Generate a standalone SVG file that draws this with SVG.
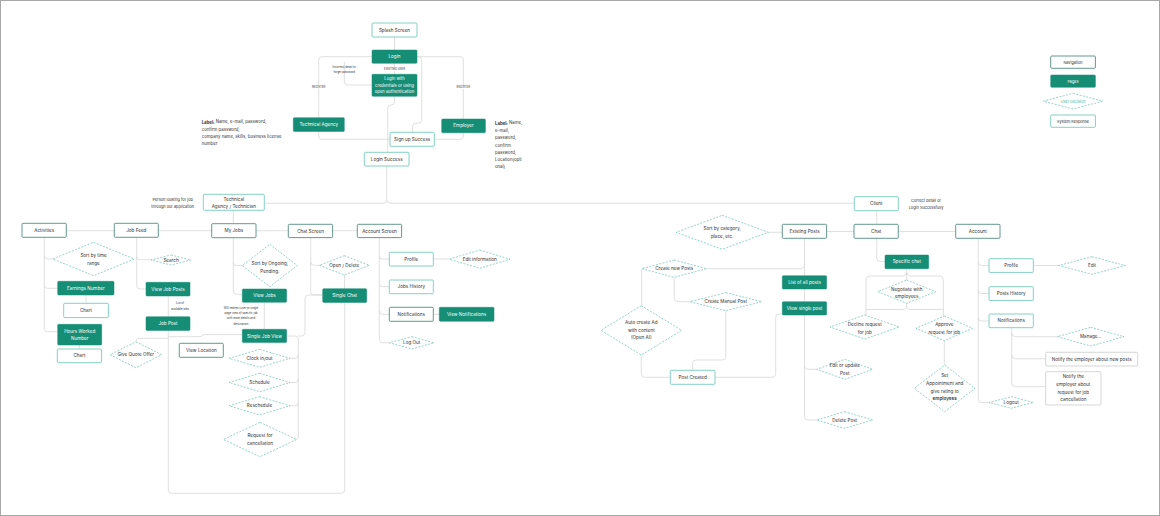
<svg xmlns="http://www.w3.org/2000/svg" width="1160" height="516" viewBox="0 0 1160 516">
<style>
.nav{fill:#fff;stroke:#3d7d6f;stroke-width:0.8}
.page{fill:#168d75;stroke:#168d75;stroke-width:0.5}
.sys{fill:#fff;stroke:#63c7b0;stroke-width:0.8}
.gray{fill:#fff;stroke:#c4c4c4;stroke-width:0.7}
.dec{fill:#fff;stroke:#4fb99f;stroke-width:0.6;stroke-dasharray:2 1.4}
.c path{fill:none;stroke:#d2d2d2;stroke-width:0.7}
text{font-family:Inter,"Liberation Sans",sans-serif;font-size:4.6px;fill:#333;text-anchor:middle;dominant-baseline:central}
.w{fill:#fff}
.s{font-size:2.8px}
.m{font-size:3.9px}
.l{font-size:4.3px;text-anchor:start}
.lg{font-size:3.8px}
.bg{fill:#fff}
</style>
<rect x="0.5" y="0.5" width="1159" height="515" fill="#fff" stroke="#a8a8a8" stroke-width="1"/>
<g class="c" id="connectors">
<path d="M394.5,37 V50"/>
<path d="M394.5,63 V74.3"/>
<path d="M344.3,62 V82 Q344.3,85 347.5,85 H372"/>
<path d="M372,56.7 H322 Q318.7,56.7 318.7,60 V136 Q318.7,139.3 322,139.3 H390"/>
<path d="M416.7,56.7 H460 Q463.3,56.7 463.3,60 V136 Q463.3,139.3 460,139.3 H434.3"/>
<path d="M416.7,56.7 H418.5 Q421.7,56.7 421.7,60 V120 Q421.7,123.3 418.5,123.3 H416 Q412.7,123.3 412.7,126.5 V132.3"/>
<path d="M394.5,96.3 V101.5 Q394.5,105 391,105 Q387.7,105 387.7,108.5 V152.3"/>
<path d="M386.7,166 V199.5 Q386.7,203.3 383,203.3 H265"/>
<path d="M386.7,199.5 Q386.7,203.3 390.5,203.3 H854.3"/>
<path d="M233.3,210.3 V223.7"/>
<path d="M66.3,230.7 H357.3"/>
<path d="M44.3,237.3 V328.5 Q44.3,331.7 47.5,331.7 H57.7"/>
<path d="M44.3,256 Q44.3,259 47.5,259 H52.7"/>
<path d="M44.3,285.3 Q44.3,288.3 47.5,288.3 H57.7"/>
<path d="M86,295 V303.3"/>
<path d="M79.3,345 V349"/>
<path d="M136.7,237.3 V286 Q136.7,289 140,289 H146"/>
<path d="M136.7,256.7 Q136.7,259.7 140,259.7 H151"/>
<path d="M168.3,296 V316.7"/>
<path d="M168.3,330.3 V490 Q168.3,493.3 171.5,493.3 H341.5 Q344.7,493.3 344.7,490 V302.3"/>
<path d="M168.3,338.3 H139 Q135.8,338.3 135.8,341.7"/>
<path d="M168.3,336.7 H199 Q201.5,336.7 202,335.6 Q202.5,334.6 205,334.6 H242.3"/>
<path d="M233.3,237.7 V291 Q233.3,294.3 236.5,294.3 H242.3"/>
<path d="M233.3,262.3 Q233.3,265.5 236.5,265.5 H242.3"/>
<path d="M264.3,302.3 V329.3"/>
<path d="M286.7,336 H295 Q298.3,336 298.3,339.5 V436 Q298.3,439.5 296.7,439.5"/>
<path d="M290,358.3 H295 Q298.3,358.3 298.3,355"/>
<path d="M290,382.5 H295 Q298.3,382.5 298.3,379"/>
<path d="M290,405.8 H295 Q298.3,405.8 298.3,402.5"/>
<path d="M298.3,336 H301.5 Q305,336 305,332.5 V298.5 Q305,295 308.5,295 H322.7"/>
<path d="M310.7,237.7 V291.5 Q310.7,295 314,295 H322.7"/>
<path d="M310.7,262 Q310.7,265.3 314.5,265.3 H319.3"/>
<path d="M344.5,275 V288.7"/>
<path d="M379.3,237.7 V339.5 Q379.3,342.8 382.5,342.8 H389.3"/>
<path d="M379.3,256 Q379.3,259 382.5,259 H389.3"/>
<path d="M379.3,283.5 Q379.3,286.7 382.5,286.7 H389.3"/>
<path d="M379.3,311 Q379.3,314.3 382.5,314.3 H389.3"/>
<path d="M433.3,259 H449.3"/>
<path d="M433.3,314.3 H439.3"/>
<path d="M804,231.5 H978"/>
<path d="M876.7,210.7 V224.3"/>
<path d="M768.3,232.3 H782.3"/>
<path d="M804.5,238.3 V416.5 Q804.5,420 808,420 H816.7"/>
<path d="M804.5,264.5 Q804.5,268.7 800,268.7 H706.7"/>
<path d="M804.5,366 Q804.5,369.3 808,369.3 H816.7"/>
<path d="M641.7,268.7 V305.7"/>
<path d="M674.2,277.3 V298 Q674.2,301.7 678,301.7 H690"/>
<path d="M725.8,310.7 V356.5 Q725.8,360 722.3,360 H696 Q692.7,360 692.7,363.5 V370.3"/>
<path d="M641.3,355 V373.5 Q641.3,377.3 645,377.3 H670.3"/>
<path d="M715,377.3 H772 Q775.7,377.3 775.7,373.5 V317.5 Q775.7,314 779,314 H782.3"/>
<path d="M876.7,238.3 V258 Q876.7,261.7 880.5,261.7 H885"/>
<path d="M906.7,268.7 V280"/>
<path d="M906.7,272 Q906.7,276 902,276 H870 Q866,276 866,280 V315"/>
<path d="M906.7,272 Q906.7,276 911,276 H939.3 Q943.3,276 943.3,280 V316"/>
<path d="M906.7,303.3 V306 Q906.7,309.5 902,309.5 H866"/>
<path d="M906.7,306 Q906.7,309.5 911,309.5 H943.3"/>
<path d="M944.3,340.7 V365"/>
<path d="M978.3,238.3 V399 Q978.3,402.5 982,402.5 H989"/>
<path d="M978.3,262.5 Q978.3,265.5 981.5,265.5 H989"/>
<path d="M978.3,290.5 Q978.3,293.5 981.5,293.5 H989"/>
<path d="M978.3,318 Q978.3,321 981.5,321 H989"/>
<path d="M1033.3,265.5 H1058.7"/>
<path d="M1011.7,327.7 V383 Q1011.7,386.7 1015.5,386.7 H1045.7"/>
<path d="M1011.7,333 Q1011.7,336.7 1015.5,336.7 H1057.3"/>
<path d="M1011.7,355 Q1011.7,358.8 1015.5,358.8 H1045.7"/>
</g>
<g id="edge-labels">
<rect class="bg" x="381" y="67.6" width="27" height="3.4"/>
<text class="s" x="394.5" y="69.3">EXISTING USER</text>
<text class="s" x="344.3" y="67.3">Incorrect detail or</text>
<text class="s" x="344.3" y="72">forget password</text>
<rect class="bg" x="310" y="85" width="17.5" height="3.4"/>
<text class="s" x="318.7" y="86.7">REGISTER</text>
<rect class="bg" x="454.5" y="85.6" width="17.5" height="3.4"/>
<text class="s" x="463.3" y="87.3">REGISTER</text>
<text class="s" x="180" y="303.3">List of</text>
<text class="s" x="180" y="308.8">available jobs</text>
<text class="s" x="241" y="307.7">Will redirect user to single</text>
<text class="s" x="241" y="313">page view of specific job</text>
<text class="s" x="241" y="318.3">with more details and</text>
<text class="s" x="241" y="323.7">description</text>
</g>
<g id="notes">
<text class="l" x="201.7" y="121.7"><tspan font-weight="700">Label:</tspan> Name, e-mail, password,</text>
<text class="l" x="201.7" y="129">confirm password,</text>
<text class="l" x="201.7" y="136.3"> company name, skills, business license</text>
<text class="l" x="201.7" y="143.7">number</text>
<text class="l" x="495" y="122.7"><tspan font-weight="700">Label:</tspan> Name,</text>
<text class="l" x="495" y="130.3">e-mail,</text>
<text class="l" x="495" y="137.7">password,</text>
<text class="l" x="495" y="145">confirm</text>
<text class="l" x="495" y="152.3">password,</text>
<text class="l" x="495" y="159.7">Location(opti</text>
<text class="l" x="495" y="166.7">onal)</text>
<text class="m" x="172.7" y="199.3">Person looking for job</text>
<text class="m" x="172.7" y="206.7">through our application</text>
<text class="m" x="926" y="200.3">Correct detail or</text>
<text class="m" x="926" y="207.7">Login Successfully</text>
</g>
<g id="splash"><rect class="sys" x="372" y="23" width="45" height="14" rx="1"/><text x="394.5" y="30">Splash Screen</text></g>
<g id="login"><rect class="page" x="372" y="50" width="45" height="13.3" rx="1"/><text class="w" x="394.5" y="56.7">Login</text></g>
<g id="login-credentials"><rect class="page" x="372" y="74.3" width="45" height="22" rx="1"/><text class="w" x="394.5" y="78.8" style="font-size:4.2px">Login with</text><text class="w" x="394.5" y="85.3" style="font-size:4.2px">credentials or using</text><text class="w" x="394.5" y="91.8" style="font-size:4.2px">open authentication</text></g>
<g id="technical-agency"><rect class="page" x="293.3" y="117.7" width="51" height="13.7" rx="1"/><text class="w" x="318.8" y="124.5">Technical Agency</text></g>
<g id="employer"><rect class="page" x="441.7" y="119" width="43.7" height="13.7" rx="1"/><text class="w" x="463.5" y="125.8">Employer</text></g>
<g id="signup-success"><rect class="sys" x="390" y="132.3" width="44.3" height="14" rx="1"/><text x="412.2" y="139.3">Sign up Success</text></g>
<g id="login-success"><rect class="sys" x="364.3" y="152.3" width="44.7" height="13.7" rx="1"/><text x="386.7" y="159.2">Login Success</text></g>
<g id="tech-agency-technician"><rect class="sys" x="203.3" y="194.3" width="61" height="16" rx="1"/><text x="233.8" y="199">Technical</text><text x="233.8" y="206">Agency / Technician</text></g>
<g id="activities"><rect class="nav" x="22" y="223.3" width="44.3" height="14" rx="1"/><text x="44.2" y="230.3">Activities</text></g>
<g id="job-feed"><rect class="nav" x="114.3" y="223.3" width="44" height="14" rx="1"/><text x="136.3" y="230.3">Job Feed</text></g>
<g id="my-jobs"><rect class="nav" x="211.7" y="223.7" width="44.3" height="14" rx="1"/><text x="233.8" y="230.7">My Jobs</text></g>
<g id="chat-screen"><rect class="nav" x="288.3" y="224.3" width="44.3" height="13.3" rx="1"/><text x="310.5" y="231">Chat Screen</text></g>
<g id="account-screen"><rect class="nav" x="357.3" y="224.3" width="44.3" height="13.3" rx="1"/><text x="379.5" y="231">Account Screen</text></g>
<g id="sort-time"><polygon class="dec" points="93.5,242.3 134.3,259 93.5,275.7 52.7,259"/><text x="93.5" y="255.3">Sort by time</text><text x="93.5" y="263.3">range</text></g>
<g id="earnings"><rect class="page" x="57.7" y="281.3" width="56.3" height="13.7" rx="1"/><text class="w" x="85.8" y="288.2">Earnings Number</text></g>
<g id="chart1"><rect class="sys" x="63.7" y="303.3" width="44.7" height="14.3" rx="1"/><text x="86" y="310.5">Chart</text></g>
<g id="hours-worked"><rect class="page" x="57.7" y="324.3" width="44" height="20.7" rx="1"/><text class="w" x="79.7" y="331">Hours Worked</text><text class="w" x="79.7" y="338.5">Number</text></g>
<g id="chart2"><rect class="sys" x="57.3" y="349" width="44.3" height="13.7" rx="1"/><text x="79.5" y="355.9">Chart</text></g>
<g id="search"><polygon class="dec" points="171,255 191,260 171,265 151,260"/><text x="171" y="260">Search</text></g>
<g id="view-job-posts"><rect class="page" x="146" y="282.3" width="44" height="13.7" rx="1"/><text class="w" x="168" y="289.2">View Job Posts</text></g>
<g id="job-post"><rect class="page" x="146" y="316.7" width="44" height="13.7" rx="1"/><text class="w" x="168" y="323.5">Job Post</text></g>
<g id="give-quote"><polygon class="dec" points="135.8,341.7 161.7,354.7 135.8,367.7 110,354.7"/><text x="135.8" y="354.7">Give Quote Offer</text></g>
<g id="view-location"><rect class="nav" x="179.3" y="343.3" width="44" height="14" rx="1"/><text x="201.3" y="350.3">View Location</text></g>
<g id="sort-ongoing"><polygon class="dec" points="269.8,244.3 297.3,265.5 269.8,286.7 242.3,265.5"/><text x="269.8" y="263">Sort by Ongoing,</text><text x="269.8" y="271">Pending.</text></g>
<g id="view-jobs"><rect class="page" x="242.3" y="289" width="44.3" height="13.3" rx="1"/><text class="w" x="264.5" y="295.7">View Jobs</text></g>
<g id="single-job-view"><rect class="page" x="242.3" y="329.3" width="44.3" height="13.3" rx="1"/><text class="w" x="264.5" y="336">Single Job View</text></g>
<g id="clock"><polygon class="dec" points="259.5,349.3 290,358.3 259.5,367.3 229,358.3"/><text x="259.5" y="358.3">Clock in/out</text></g>
<g id="schedule"><polygon class="dec" points="259.5,373.3 290,382.5 259.5,391.7 229,382.5"/><text x="259.5" y="382.5">Schedule</text></g>
<g id="reschedule"><polygon class="dec" points="259.5,396.7 290,405.8 259.5,415 229,405.8"/><text x="259.5" y="405.8">Reschedule</text></g>
<g id="request-cancel"><polygon class="dec" points="260,422.3 296.7,439.5 260,456.7 223.3,439.5"/><text x="260" y="435.7">Request for</text><text x="260" y="443.3">cancellation</text></g>
<g id="open-delete"><polygon class="dec" points="344.3,255.7 369.3,265.3 344.3,275 319.3,265.3"/><text x="344.3" y="265.3">Open / Delete</text></g>
<g id="single-chat"><rect class="page" x="322.7" y="288.7" width="44" height="13.7" rx="1"/><text class="w" x="344.7" y="295.5">Single Chat</text></g>
<g id="profile1"><rect class="sys" x="389.3" y="252.3" width="44" height="13.7" rx="1"/><text x="411.3" y="259.2">Profile</text></g>
<g id="edit-info"><polygon class="dec" points="479.7,250 510,259.2 479.7,268.3 449.3,259.2"/><text x="479.7" y="259.2">Edit information</text></g>
<g id="jobs-history"><rect class="sys" x="389.3" y="280" width="44" height="13.7" rx="1"/><text x="411.3" y="286.8">Jobs History</text></g>
<g id="notifications1"><rect class="nav" x="389.3" y="307.3" width="44" height="14" rx="1"/><text x="411.3" y="314.3">Notifications</text></g>
<g id="view-notifications"><rect class="page" x="439.3" y="307.3" width="54.7" height="14" rx="1"/><text class="w" x="466.6" y="314.3">View Notifications</text></g>
<g id="logout1"><polygon class="dec" points="411.7,336.7 434,342.8 411.7,349 389.3,342.8"/><text x="411.7" y="342.8">Log Out</text></g>
<g id="client"><rect class="sys" x="854.3" y="196.7" width="44" height="14" rx="1"/><text x="876.3" y="203.7">Client</text></g>
<g id="existing-posts"><rect class="nav" x="782.3" y="224.3" width="44.3" height="14" rx="1"/><text x="804.5" y="231.3">Existing Posts</text></g>
<g id="chat"><rect class="nav" x="854" y="224.3" width="44.3" height="14" rx="1"/><text x="876.2" y="231.3">Chat</text></g>
<g id="account"><rect class="nav" x="955.7" y="224.3" width="44.3" height="14" rx="1"/><text x="977.8" y="231.3">Account</text></g>
<g id="sort-category"><polygon class="dec" points="722.2,215.3 768.3,232.3 722.2,249.3 676,232.3"/><text x="722.2" y="228.7">Sort by category,</text><text x="722.2" y="236.3">place, etc.</text></g>
<g id="create-new-posts"><polygon class="dec" points="674.2,260 706.7,268.7 674.2,277.3 641.7,268.7"/><text x="674.2" y="268.7">Create new Posts</text></g>
<g id="create-manual"><polygon class="dec" points="725.8,292.7 761.7,301.7 725.8,310.7 690,301.7"/><text x="725.8" y="301.7">Create Manual Post</text></g>
<g id="auto-create"><polygon class="dec" points="641.3,305.7 681.7,330.3 641.3,355 601,330.3"/><text x="641.3" y="322.3">Auto create Ad</text><text x="641.3" y="330">with content</text><text x="641.3" y="337.7">(Open AI)</text></g>
<g id="post-created"><rect class="sys" x="670.3" y="370.3" width="44.7" height="14" rx="1"/><text x="692.7" y="377.3">Post Created</text></g>
<g id="list-all-posts"><rect class="page" x="782.3" y="275.7" width="44.3" height="13.3" rx="1"/><text class="w" x="804.5" y="282.4">List of all posts</text></g>
<g id="view-single-post"><rect class="page" x="782.3" y="301.7" width="44.3" height="13.3" rx="1"/><text class="w" x="804.5" y="308.4">View single post</text></g>
<g id="edit-update-post"><polygon class="dec" points="844.7,359.3 872.7,369.3 844.7,379.3 816.7,369.3"/><text x="844.7" y="365.8">Edit or update</text><text x="844.7" y="373.3">Post</text></g>
<g id="delete-post"><polygon class="dec" points="844.7,411.7 872.7,420 844.7,428.3 816.7,420"/><text x="844.7" y="420">Delete Post</text></g>
<g id="specific-chat"><rect class="page" x="885" y="255" width="43.7" height="13.7" rx="1"/><text class="w" x="906.8" y="261.8">Specific chat</text></g>
<g id="negotiate"><polygon class="dec" points="906.7,280 935.7,291.7 906.7,303.3 877.7,291.7"/><text x="906.7" y="289">Negotiate with</text><text x="906.7" y="296.7">employees</text></g>
<g id="decline"><polygon class="dec" points="864.7,315 899.3,327 864.7,339 830,327"/><text x="864.7" y="324.3">Decline request</text><text x="864.7" y="332">for job</text></g>
<g id="approve"><polygon class="dec" points="944.3,316 972.7,328.3 944.3,340.7 916,328.3"/><text x="944.3" y="324.7">Approve</text><text x="944.3" y="332.2">request for job</text></g>
<g id="set-appointment"><polygon class="dec" points="944.7,365 975,388.3 944.7,411.7 914.3,388.3"/><text x="944.7" y="375.7">Set</text><text x="944.7" y="383.3">Appointment and</text><text x="944.7" y="391">give rating to</text><text x="944.7" y="398.8" font-weight="600">employees</text></g>
<g id="profile2"><rect class="sys" x="989" y="258.7" width="44.3" height="13.7" rx="1"/><text x="1011.2" y="265.5">Profile</text></g>
<g id="edit"><polygon class="dec" points="1092,256.7 1125.3,265.5 1092,274.3 1058.7,265.5"/><text x="1092" y="265.5">Edit</text></g>
<g id="posts-history"><rect class="sys" x="989" y="286.7" width="44.3" height="13.7" rx="1"/><text x="1011.2" y="293.5">Posts History</text></g>
<g id="notifications2"><rect class="sys" x="989" y="314" width="44.3" height="13.7" rx="1"/><text x="1011.2" y="320.8">Notifications</text></g>
<g id="manage"><polygon class="dec" points="1090.7,327.3 1124,336.7 1090.7,346 1057.3,336.7"/><text x="1090.7" y="336.7">Manage...</text></g>
<g id="notify-new-posts"><rect class="gray" x="1045.7" y="352.3" width="92" height="13.7" rx="1"/><text x="1091.7" y="359.2">Notify the employer about new posts</text></g>
<g id="notify-cancel"><rect class="gray" x="1045.7" y="371.7" width="55.3" height="33.3" rx="1"/><text x="1073.3" y="376.7">Notify the</text><text x="1073.3" y="384.3">employer about</text><text x="1073.3" y="392">request for job</text><text x="1073.3" y="399.7">cancellation</text></g>
<g id="logout2"><polygon class="dec" points="1011.2,396.7 1033.3,402.5 1011.2,408.3 989,402.5"/><text x="1011.2" y="402.5">Logout</text></g>
<g id="legend">
<rect class="nav" x="1050.7" y="56" width="44.7" height="12.3" rx="1"/><text class="lg" x="1073" y="62.2">Navigation</text>
<rect class="page" x="1050.7" y="75" width="44.7" height="12.3" rx="1"/><text class="lg w" x="1073" y="81.2">Pages</text>
<polygon class="dec" points="1073,93.3 1102.7,101.2 1073,109 1043.3,101.2"/><text class="lg" x="1073" y="101.2" style="fill:#4fb99f">User Decision</text>
<rect class="sys" x="1050.7" y="115" width="44.7" height="12.3" rx="1"/><text class="lg" x="1073" y="121.2">System Response</text>
</g>
</svg>
